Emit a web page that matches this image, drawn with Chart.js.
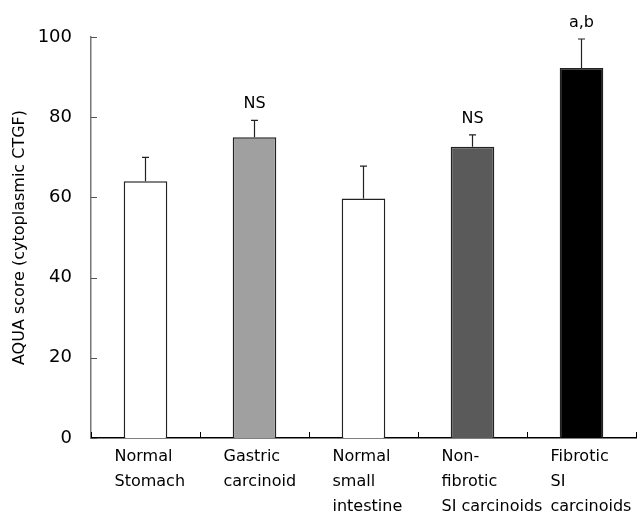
<!DOCTYPE html>
<html>
<head>
<meta charset="utf-8">
<script src="https://cdn.jsdelivr.net/npm/chart.js@4.4.1/dist/chart.umd.min.js"></script>
<style>
  body { margin: 0; background: #fff; }
</style>
</head>
<body>
<canvas id="viewData" width="641" height="517"></canvas>
<script>
// data
var categories = [
  ['Normal', 'Stomach'],
  ['Gastric', 'carcinoid'],
  ['Normal', 'small', 'intestine'],
  ['Non-', 'fibrotic', 'SI carcinoids'],
  ['Fibrotic', 'SI', 'carcinoids']
];
var means = [64, 75, 59.7, 72.6, 92.3];
var errors = [6, 4.2, 8.1, 3, 7.2];
var marks = ['', 'NS', '', 'NS', 'a,b'];
var barColors = ['#ffffff', '#a0a0a0', '#ffffff', '#5a5a5a', '#000000'];
var yTicks = [0, 20, 40, 60, 80, 100];

var FONT = '"DejaVu Sans", Verdana, sans-serif';

// error bars, significance marks and inward tick marks
var extras = {
  id: 'extras',
  afterDatasetsDraw: function(chart) {
    var ctx = chart.ctx;
    var x = chart.scales.x, y = chart.scales.y;
    ctx.save();
    ctx.strokeStyle = '#222';
    ctx.lineWidth = 1.2;
    for (var i = 0; i < means.length; i++) {
      var px = x.getPixelForValue(i);
      var base = y.getPixelForValue(means[i]);
      var top = y.getPixelForValue(means[i] + errors[i]);
      ctx.beginPath();
      ctx.moveTo(px, base);
      ctx.lineTo(px, top);
      ctx.moveTo(px - 3.5, top);
      ctx.lineTo(px + 3.5, top);
      ctx.stroke();
      if (marks[i]) {
        ctx.fillStyle = '#000';
        ctx.font = '16px ' + FONT;
        ctx.textAlign = 'center';
        ctx.textBaseline = 'alphabetic';
        ctx.fillText(marks[i], px, top - 12);
      }
    }
    // ticks pointing into the plot
    ctx.strokeStyle = '#555';
    ctx.lineWidth = 1;
    yTicks.forEach(function(v) {
      var py = Math.round(y.getPixelForValue(v)) + 0.5;
      ctx.beginPath();
      ctx.moveTo(x.left, py);
      ctx.lineTo(x.left + 6, py);
      ctx.stroke();
    });
    ctx.strokeStyle = '#000';
    var half = (x.getPixelForValue(1) - x.getPixelForValue(0)) / 2;
    for (var k = 0; k <= categories.length; k++) {
      var bx = Math.round(x.getPixelForValue(k) - half) + 0.5;
      ctx.beginPath();
      ctx.moveTo(bx, y.bottom);
      ctx.lineTo(bx, y.bottom - 6);
      ctx.stroke();
    }
    ctx.restore();
  }
};

var dataForChart = {
  labels: categories,
  datasets: [{
    label: 'AQUA score',
    data: means,
    backgroundColor: barColors,
    borderColor: '#222',
    borderWidth: 1.5,
    barPercentage: 0.4,
    categoryPercentage: 1
  }]
};

new Chart(document.getElementById('viewData'), {
  type: 'bar',
  data: dataForChart,
  plugins: [extras],
  options: {
    responsive: false,
    animation: false,
    devicePixelRatio: 1,
    layout: { padding: { left: 0, right: 5, top: 37, bottom: 0 } },
    plugins: { legend: { display: false }, tooltip: { enabled: false } },
    scales: {
      x: {
        grid: { display: false, drawTicks: false },
        border: { display: true, color: '#000', width: 1.5 },
        afterFit: function(s) {
          s.height = 79;
          s.paddingLeft = 0;
          s.paddingRight = 0;
        },
        ticks: {
          color: '#000',
          font: { family: FONT, size: 16, lineHeight: 1.5625 },
          align: 'start',
          labelOffset: -31,
          padding: 6,
          maxRotation: 0,
          autoSkip: false
        }
      },
      y: {
        min: 0,
        max: 100,
        afterFit: function(s) {
          s.width = 91;
          s.paddingTop = 0;
          s.paddingBottom = 0;
        },
        afterBuildTicks: function(s) { s.ticks = yTicks.map(function(v) { return { value: v }; }); },
        grid: { display: false, drawTicks: false },
        border: { display: true, color: '#777', width: 1.5 },
        ticks: {
          color: '#000',
          font: { family: FONT, size: 18 },
          padding: 19
        },
        title: {
          display: true,
          text: 'AQUA score (cytoplasmic CTGF)',
          color: '#000',
          font: { family: FONT, size: 16 },
          padding: { top: 10, bottom: 0 }
        }
      }
    }
  }
});
</script>
</body>
</html>
